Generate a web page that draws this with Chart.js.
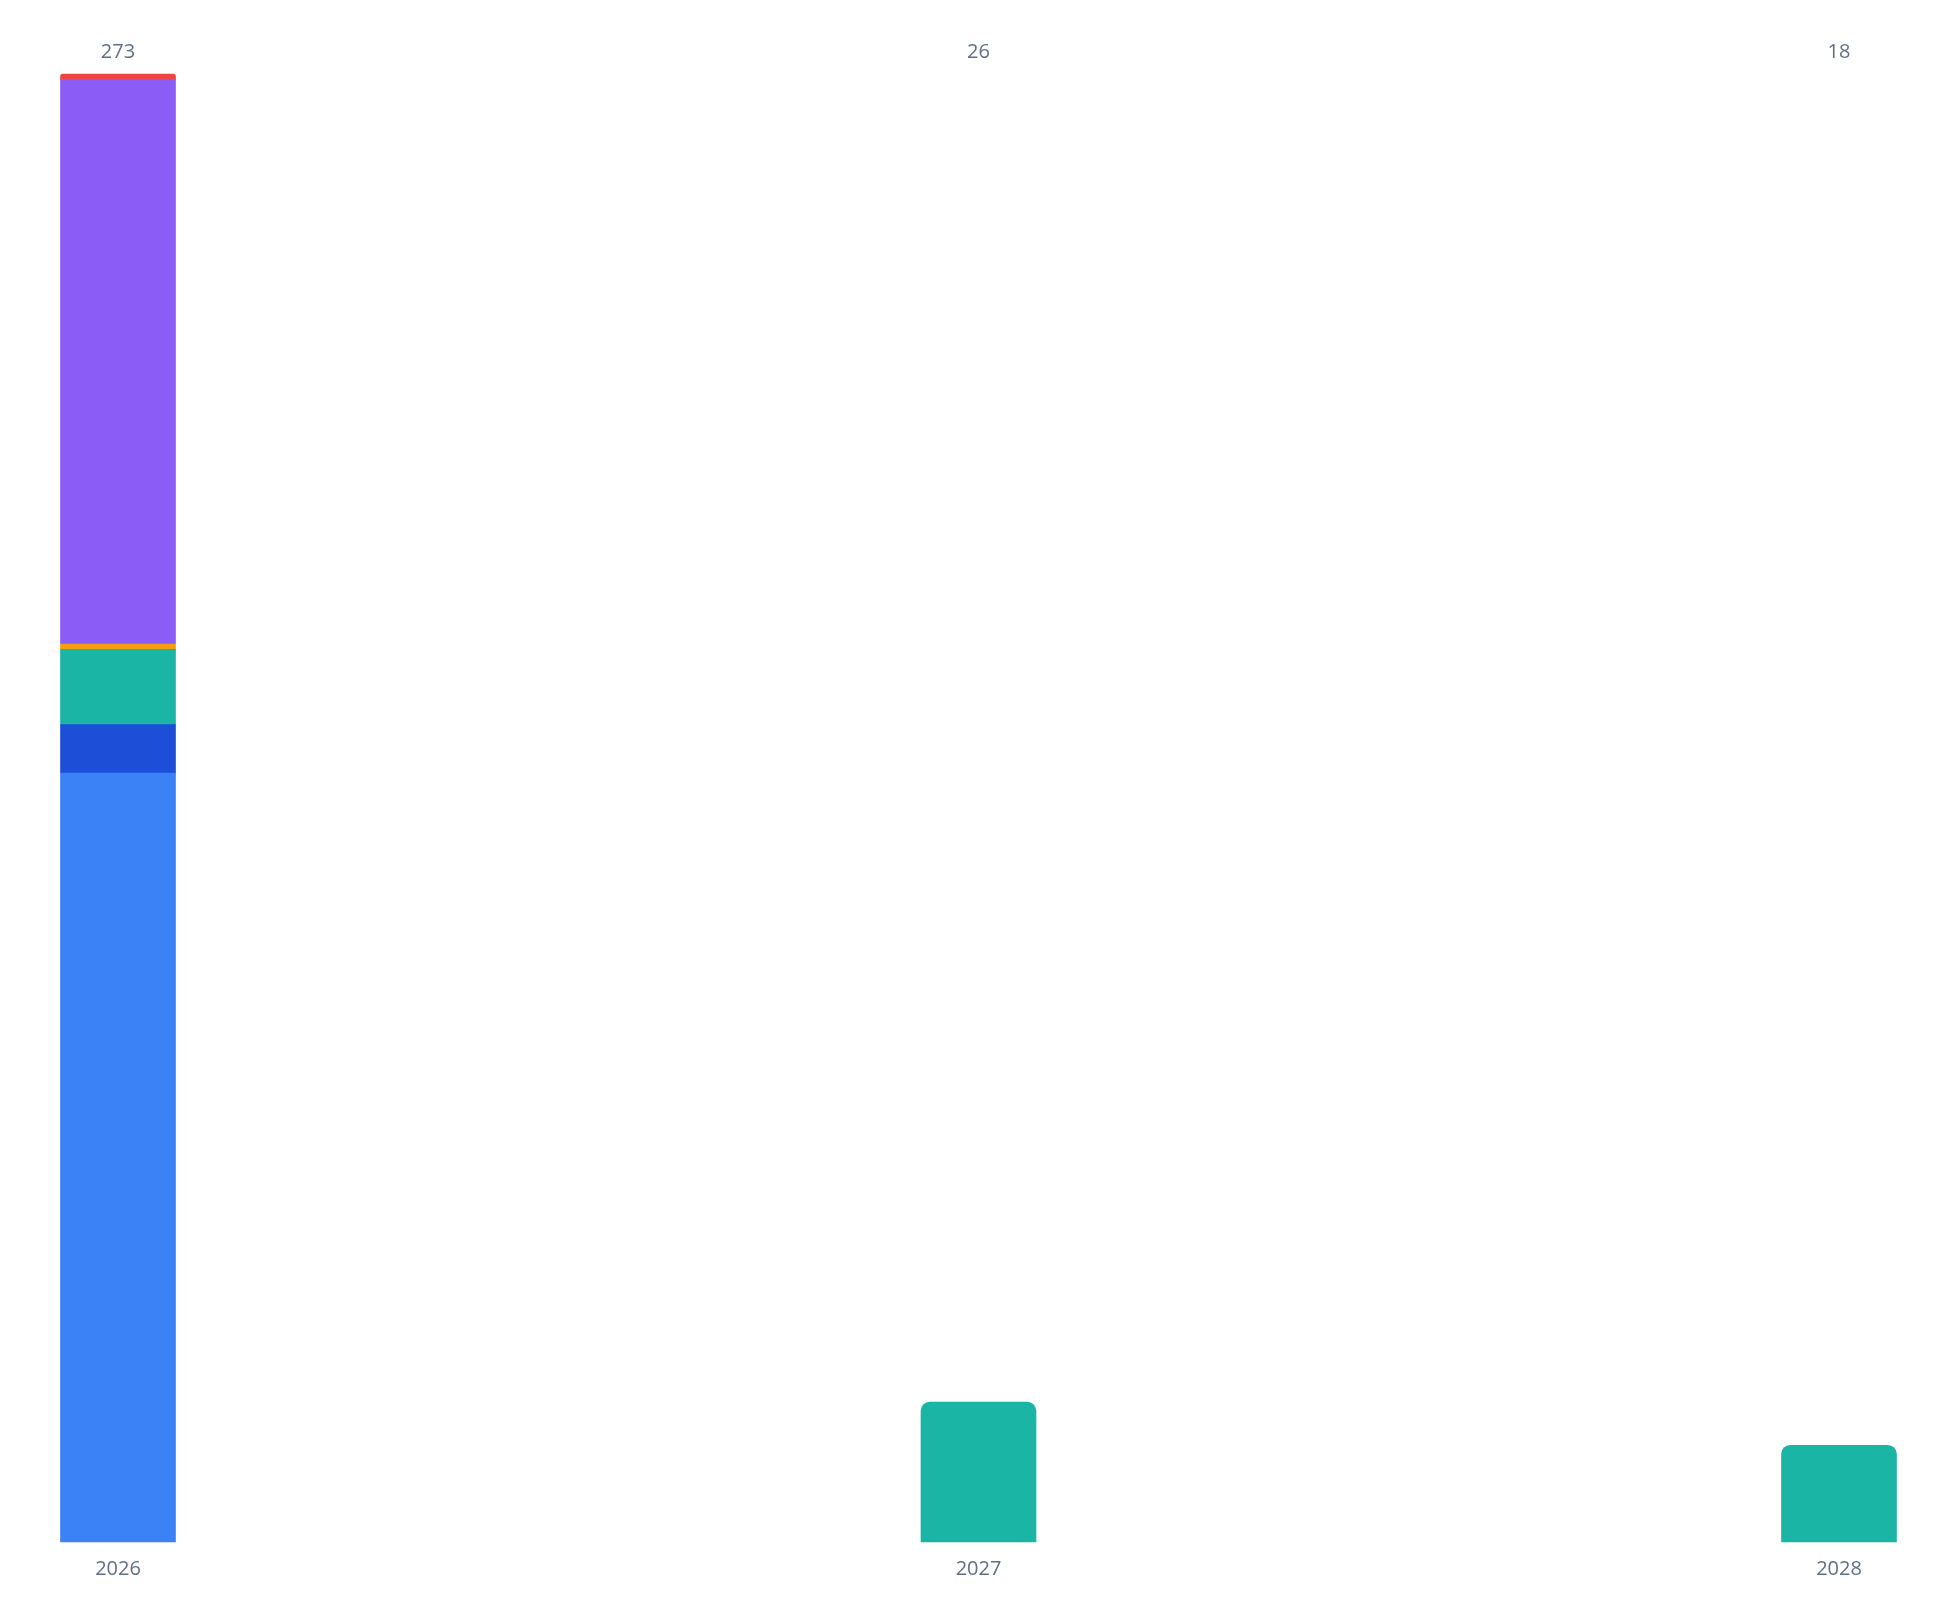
<!DOCTYPE html>
<html>
<head>
<meta charset="utf-8">
<script src="https://cdn.jsdelivr.net/npm/chart.js@4/dist/chart.umd.min.js"></script>
<style>
  html, body { margin: 0; padding: 0; background: #fff; }
  #wrap { width: 1944px; height: 1603px; }
</style>
</head>
<body>
<div id="wrap"><canvas id="myChart"></canvas></div>
<script>
// categories and series
const years = ["2026", "2027", "2028"];
const seriesBlue = [143, null, null];
const seriesNavy = [9, null, null];
const seriesTeal = [14, 26, 18];
const seriesAmber = [1, null, null];
const seriesViolet = [105, null, null];
const seriesRed = [1, null, null];

const allSeries = [seriesBlue, seriesNavy, seriesTeal, seriesAmber, seriesViolet, seriesRed];
const totals = years.map((y, i) => allSeries.reduce((s, arr) => s + (arr[i] || 0), 0));

const textColor = "#5f6f85";
const font = { family: "'Open Sans', sans-serif", size: 20 };

function makeSet(label, data, color) {
  return {
    label: label,
    data: data,
    backgroundColor: color,
    borderRadius: 9,
    barThickness: 115,
    clip: false,
  };
}

let ctx = document.getElementById("myChart").getContext("2d");
let chart = new Chart(ctx, {
  type: "bar",
  data: {
    labels: years,
    datasets: [
      makeSet("Blue", seriesBlue, "#3b82f6"),
      makeSet("Navy", seriesNavy, "#1d4ed8"),
      makeSet("Teal", seriesTeal, "#1ab5a5"),
      makeSet("Amber", seriesAmber, "#f59e0b"),
      makeSet("Violet", seriesViolet, "#8b5cf6"),
      makeSet("Red", seriesRed, "#ef4444"),
    ],
  },
  options: {
    responsive: true,
    maintainAspectRatio: false,
    animation: false,
    layout: { padding: { left: 118, right: 105, top: 30, bottom: 7 } },
    plugins: {
      legend: { display: false },
      tooltip: { enabled: false },
    },
    scales: {
      x: {
        stacked: true,
        offset: false,
        grid: { display: false, drawTicks: false },
        border: { display: false },
        ticks: { color: textColor, font: font, padding: 15, maxRotation: 0, autoSkip: false },
      },
      totals: {
        type: "category",
        position: "top",
        labels: totals.map(String),
        offset: false,
        grid: { display: false, drawTicks: false },
        border: { display: false },
        ticks: { color: textColor, font: font, padding: 10, maxRotation: 0, autoSkip: false },
      },
      y: {
        stacked: true,
        display: false,
        min: 0,
        max: Math.max(...totals),
      },
    },
  },
});
</script>
</body>
</html>
